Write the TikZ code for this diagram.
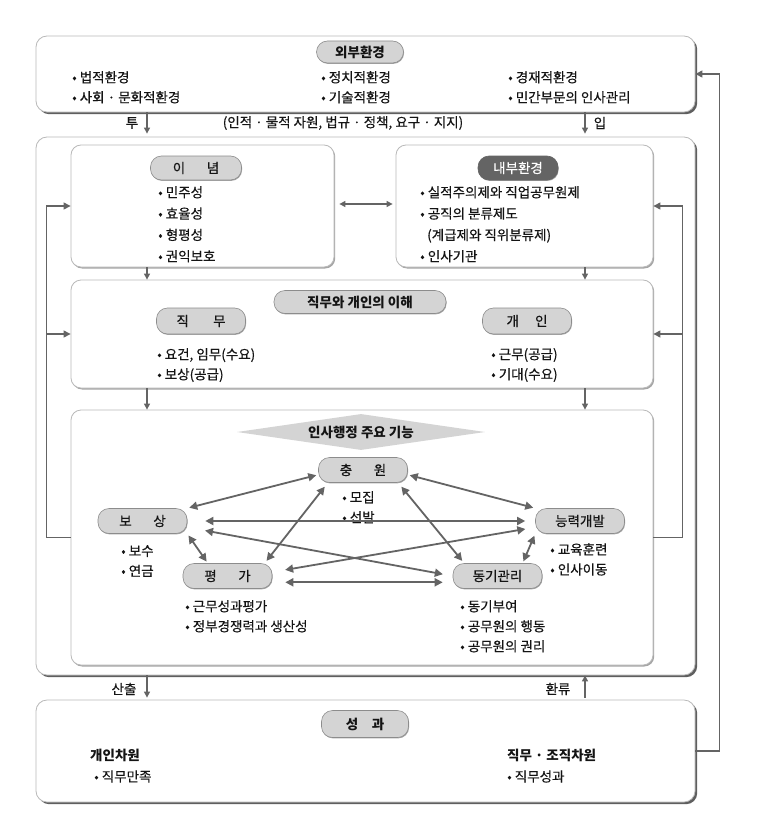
\documentclass[tikz,border=0pt]{standalone}
\usepackage{fontspec}
\setmainfont{Noto Sans CJK KR}[UprightFeatures={FakeBold=0.4}]
\usepackage{xcolor}
\usetikzlibrary{arrows.meta,shapes.geometric,shadows,calc}

\definecolor{linegray}{RGB}{100,100,100}
\definecolor{boxedge}{RGB}{185,185,185}
\definecolor{shadowdark}{RGB}{95,95,95}
\definecolor{shadowlight}{RGB}{165,165,165}
\definecolor{pillfill}{RGB}{212,212,212}
\definecolor{pilledge}{RGB}{140,140,140}
\definecolor{darkpill}{RGB}{100,100,100}
\definecolor{txtcol}{RGB}{20,20,20}

\begin{document}
\begin{tikzpicture}[x=1pt, y=-1pt,
  bigbox/.style={rectangle, draw=boxedge, fill=white, rounded corners=11pt,
                 line width=0.8pt,
                 drop shadow={shadow xshift=2.2pt, shadow yshift=-2.2pt, fill=shadowdark, opacity=1}},
  subbox/.style={rectangle, draw=boxedge, fill=white, rounded corners=10pt,
                 line width=0.8pt,
                 drop shadow={shadow xshift=1.2pt, shadow yshift=-1.5pt, fill=shadowlight, opacity=1}},
  pill/.style={rectangle, draw=pilledge, fill=pillfill, rounded corners=11pt,
               line width=0.6pt, inner sep=0pt, text=txtcol,
               font=\fontsize{13.5}{15}\selectfont, minimum width=89pt, minimum height=25pt,
               drop shadow={shadow xshift=0.6pt, shadow yshift=-0.9pt, fill=shadowlight, opacity=1}},
  title/.style={pill, font=\fontsize{13.5}{15}\selectfont\bfseries},
  items/.style={anchor=north west, inner sep=0pt, align=left, text=txtcol,
                font=\fontsize{13.5}{20}\selectfont},
  lbl/.style={inner sep=0pt, text=txtcol, font=\fontsize{13.5}{15}\selectfont},
  flow/.style={draw=linegray, line width=1.1pt, -{Triangle[length=6pt, width=6pt]}},
  back/.style={draw=linegray, line width=1.1pt, -{Triangle[length=7pt, width=7pt]}},
  link/.style={draw=linegray, line width=1.8pt,
               {Triangle[length=8pt, width=8pt]}-{Triangle[length=8pt, width=8pt]},
               shorten <=2pt, shorten >=2pt},
]
  \useasboundingbox (0,0) rectangle (757,816);

  % Main frames
  \node[bigbox, minimum width=659pt, minimum height=76pt] (env) at (365.5,74) {};
  \node[bigbox, minimum width=659pt, minimum height=538pt] (system) at (365.5,406) {};
  \node[bigbox, minimum width=659pt, minimum height=102pt] (result) at (365.5,751) {};

  % Boxes inside the system frame
  \node[subbox, minimum width=263pt, minimum height=122pt] (ideology) at (202.5,206) {};
  \node[subbox, minimum width=257pt, minimum height=122pt] (innerenv) at (524.5,206) {};
  \node[subbox, minimum width=582pt, minimum height=108pt] (jobbox) at (362,334) {};
  \node[subbox, minimum width=582pt, minimum height=255pt] (functions) at (362,537.5) {};

  % External environment
  \node[title, minimum width=87pt, minimum height=22pt] (envtitle) at (360,52) {외부환경};
  \node[items] (envA) at (72,71) {• 법적환경\\• 사회 · 문화적환경};
  \node[items] (envB) at (321,71) {• 정치적환경\\• 기술적환경};
  \node[items] (envC) at (508,71) {• 경재적환경\\• 민간부문의 인사관리};

  % Input
  \coordinate (inL) at (147,0);
  \coordinate (inR) at (585,0);
  \node[lbl] (tu) at (132,123) {투};
  \node[lbl] (inputs) at (343,123) {(인적 · 물적 자원, 법규 · 정책, 요구 · 지지)};
  \node[lbl] (ip) at (600,123) {입};
  \draw[flow, shorten >=3pt] (env.south -| inL) -- (system.north -| inL);
  \draw[flow, shorten >=3pt] (env.south -| inR) -- (system.north -| inR);

  % Ideology and internal environment
  \node[pill, minimum width=91pt, minimum height=24pt] (ideotitle) at (196,168) {이\hspace{1.6em}념};
  \node[items, font=\fontsize{13.5}{21.3}\selectfont] (ideolist) at (158,186)
       {• 민주성\\• 효율성\\• 형평성\\• 권익보호};
  \node[pill, fill=darkpill, draw=darkpill, text=white, minimum width=80pt, minimum height=24pt]
       (innertitle) at (518,168) {내부환경};
  \node[items, font=\fontsize{13.5}{21.3}\selectfont] (innerlist) at (420,186)
       {• 실적주의제와 직업공무원제\\• 공직의 분류제도\\\hspace{7pt}(계급제와 직위분류제)\\• 인사기관};
  \draw[link, line width=1.2pt, {Triangle[length=6pt, width=6pt]}-{Triangle[length=6pt, width=6pt]},
        shorten <=5pt, shorten >=3pt] (ideology.east |- 0,204) -- (innerenv.west |- 0,204);

  \draw[flow] (ideology.south -| inL) -- (jobbox.north -| inL);
  \draw[flow] (innerenv.south -| inR) -- (jobbox.north -| inR);

  % Job and individual
  \node[title, minimum width=172pt, minimum height=23pt] (jobtitle) at (360,302) {직무와 개인의 이해};
  \node[pill, minimum height=26pt] (jobpill) at (201,321) {직\hspace{1.8em}무};
  \node[pill, minimum height=26pt] (personpill) at (527,321) {개\hspace{1.2em}인};
  \node[items] (joblist) at (157,348) {• 요건, 임무(수요)\\• 보상(공급)};
  \node[items] (personlist) at (491,348) {• 근무(공급)\\• 기대(수요)};

  \draw[flow] (jobbox.south -| inL) -- (functions.north -| inL);
  \draw[flow] (jobbox.south -| inR) -- (functions.north -| inR);

  % Main functions
  \node[diamond, aspect=6.9, fill=pillfill, inner sep=0pt, minimum width=248pt, minimum height=36pt,
        font=\fontsize{13.5}{15}\selectfont\bfseries, text=txtcol] (functitle) at (361,432) {인사행정 주요 기능};
  \node[pill] (chungwon) at (363,470) {충\hspace{1.6em}원};
  \node[pill] (bosang) at (142.5,521) {보\hspace{1.6em}상};
  \node[pill] (neungryeok) at (580,521) {능력개발};
  \node[pill] (pyeongga) at (227.5,576) {평\hspace{1.6em}가};
  \node[pill] (donggi) at (497.5,576) {동기관리};

  \node[items] (chunglist) at (342,491) {• 모집\\• 선발};
  \node[items] (bolist) at (121,545) {• 보수\\• 연금};
  \node[items] (neunglist) at (550,543) {• 교육훈련\\• 인사이동};
  \node[items] (pyeonglist) at (185,600) {• 근무성과평가\\• 정부경쟁력과 생산성};
  \node[items] (dongglist) at (460,600) {• 동기부여\\• 공무원의 행동\\• 공무원의 권리};

  % Links between the functions
  \draw[link] (bosang.north east) -- (chungwon.186);
  \draw[link] (chungwon.354) -- (neungryeok.north west);
  \draw[link, shorten <=18pt, shorten >=10pt] (bosang.east) -- (neungryeok.west);
  \draw[link, shorten <=18pt, shorten >=10pt] (bosang.-8) -- (donggi.west);
  \draw[link, shorten <=13pt, shorten >=10pt] (pyeongga.5) -- (neungryeok.188);
  \draw[link, shorten <=13pt, shorten >=10pt] (pyeongga.-8) -- (donggi.188);
  \draw[link, shorten <=3pt, shorten >=5pt] (pyeongga.19) -- (chungwon.200);
  \draw[link, shorten <=5pt, shorten >=3pt] (chungwon.-20) -- (donggi.159);
  \draw[link] (bosang.south east) -- (pyeongga.147);
  \draw[link] (neungryeok.south west) -- (donggi.27);

  % Feedback inside the system
  \draw[back] (functions.west) -- ++(-24,0) |- (ideology.west);
  \draw[back] (functions.west) ++(-24,0) |- (jobbox.west);
  \draw[back] (functions.east) -- ++(29,0) |- (innerenv.east);
  \draw[back] (functions.east) ++(29,0) |- (jobbox.east);

  % Output and feedback
  \node[lbl] (sanchul) at (124,689) {산출};
  \node[lbl] (hwanryu) at (558,689) {환류};
  \draw[flow, shorten >=2pt] (system.south -| inL) -- (result.north -| inL);
  \draw[flow, shorten <=2pt] (result.north -| inR) -- (system.south -| inR);
  \draw[back] (result.east) -- ++(24,0) |- (env.east);

  % Results
  \node[title, minimum width=87pt, minimum height=27pt] (resulttitle) at (365,724) {성\hspace{1em}과};
  \node[items, font=\fontsize{13.5}{21}\selectfont] (personal) at (90,749)
       {\textbf{개인차원}\\\hspace{4pt}• 직무만족};
  \node[items, font=\fontsize{13.5}{21}\selectfont] (organ) at (507,749)
       {\textbf{직무 · 조직차원}\\• 직무성과};

\end{tikzpicture}
\end{document}
